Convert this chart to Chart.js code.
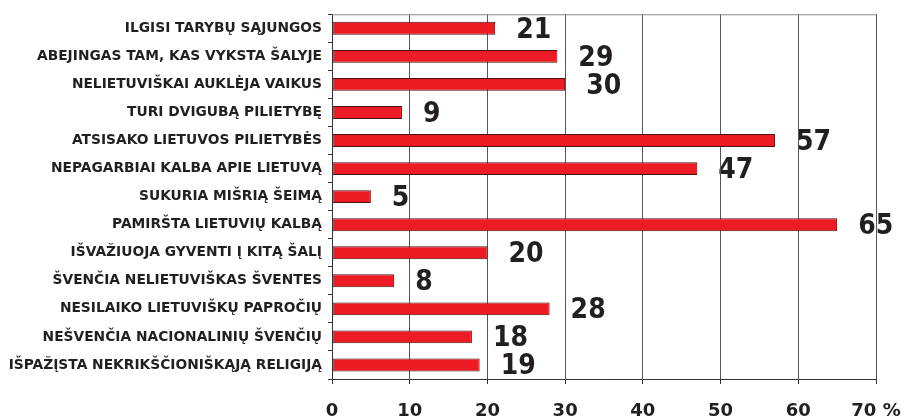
<!DOCTYPE html>
<html>
<head>
<meta charset="utf-8">
<script src="https://cdn.jsdelivr.net/npm/chart.js@4"></script>
<style>
html,body{margin:0;padding:0;background:#fff;}
#wrap{width:919px;height:417px;position:relative;}
</style>
</head>
<body>
<div id="wrap"><canvas id="c" width="919" height="417"></canvas></div>
<script>
const categories = [
  "ILGISI TARYBŲ SĄJUNGOS",
  "ABEJINGAS TAM, KAS VYKSTA ŠALYJE",
  "NELIETUVIŠKAI AUKLĖJA VAIKUS",
  "TURI DVIGUBĄ PILIETYBĘ",
  "ATSISAKO LIETUVOS PILIETYBĖS",
  "NEPAGARBIAI KALBA APIE LIETUVĄ",
  "SUKURIA MIŠRIĄ ŠEIMĄ",
  "PAMIRŠTA LIETUVIŲ KALBĄ",
  "IŠVAŽIUOJA GYVENTI Į KITĄ ŠALĮ",
  "ŠVENČIA NELIETUVIŠKAS ŠVENTES",
  "NESILAIKO LIETUVIŠKŲ PAPROČIŲ",
  "NEŠVENČIA NACIONALINIŲ ŠVENČIŲ",
  "IŠPAŽĮSTA NEKRIKŠČIONIŠKĄJĄ RELIGIJĄ"
];
const values = [21, 29, 30, 9, 57, 47, 5, 65, 20, 8, 28, 18, 19];
const xTickValues = [0, 10, 20, 30, 40, 50, 60, 70];
const unitSuffix = " %";

const valueLabels = {
  id: 'valueLabels',
  beforeDraw(chart) {
    const ctx = chart.ctx;
    const xs = chart.scales.x, ys = chart.scales.y;
    ctx.save();
    ctx.font = 'bold 28px "DejaVu Sans Condensed", "DejaVu Sans"';
    ctx.fillStyle = '#231f20';
    ctx.textAlign = 'left';
    ctx.textBaseline = 'middle';
    values.forEach((v, i) => {
      ctx.fillText(String(v), xs.getPixelForValue(v) + 21, ys.getPixelForValue(i) + 2);
    });
    ctx.restore();
  }
};

new Chart(document.getElementById('c'), {
  type: 'bar',
  data: {
    labels: categories,
    datasets: [{
      data: values,
      backgroundColor: '#ed1c24',
      borderColor: '#4a1214',
      borderWidth: 1,
      borderSkipped: false,
      barPercentage: 0.46,
      categoryPercentage: 1.0
    }]
  },
  options: {
    indexAxis: 'y',
    responsive: false,
    animation: false,
    devicePixelRatio: 1,
    layout: { padding: { left: 0, right: 43, top: 11, bottom: 0 } },
    plugins: { legend: { display: false }, tooltip: { enabled: false } },
    scales: {
      x: {
        type: 'linear',
        min: 0, max: 70,
        afterBuildTicks: s => { s.ticks = xTickValues.map(v => ({ value: v })); },
        afterFit: s => { s.height = 38; },
        grid: { color: '#555', lineWidth: 1, tickLength: 5, drawTicks: true, tickColor: '#333' },
        border: { color: '#333', width: 1 },
        ticks: {
          padding: 17,
          color: '#231f20',
          font: { family: 'DejaVu Sans', weight: 'bold', size: 18 },
          callback: v => v === 70 ? v + unitSuffix : String(v)
        }
      },
      y: {
        afterFit: s => { s.width = 332; },
        grid: { drawOnChartArea: false, offset: true, tickLength: 4, tickColor: '#333' },
        border: { color: '#333', width: 1 },
        ticks: {
          padding: 6,
          color: '#231f20',
          font: { family: 'DejaVu Sans', weight: 'bold', size: 13.8 }
        }
      }
    }
  },
  plugins: [valueLabels, {
    id: 'topBorder',
    afterDatasetsDraw(chart) {
      const a = chart.chartArea, ctx = chart.ctx;
      ctx.save();
      ctx.strokeStyle = '#888';
      ctx.lineWidth = 1;
      ctx.beginPath();
      ctx.moveTo(a.left, a.top + 0.5);
      ctx.lineTo(a.right, a.top + 0.5);
      ctx.stroke();
      ctx.restore();
    }
  }]
});
</script>
</body>
</html>
